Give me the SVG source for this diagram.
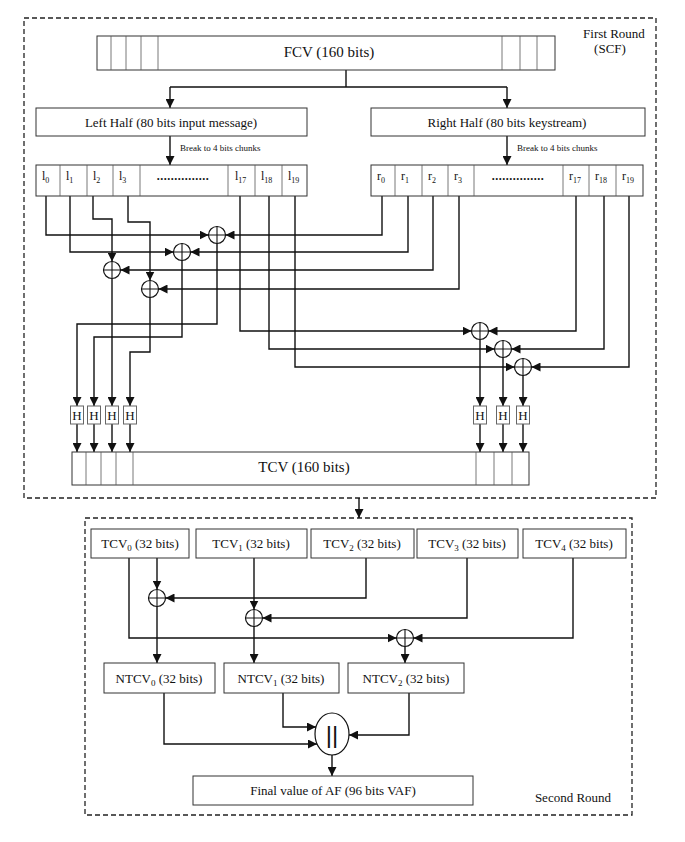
<svg xmlns="http://www.w3.org/2000/svg" width="685" height="842" viewBox="0 0 685 842">
<defs>
<style>
.bg{fill:#fff}
.frame{fill:none;stroke:#222;stroke-width:1.3;stroke-dasharray:5,3}
.box{fill:#fff;stroke:#333;stroke-width:1}
.cell{fill:none;stroke:#555;stroke-width:0.8}
.hbox{fill:#fff;stroke:#666;stroke-width:1}
.ln{fill:none;stroke:#111;stroke-width:1.4}
.arr{fill:none;stroke:#111;stroke-width:1.4;marker-end:url(#ah)}
.xor{fill:#fff;stroke:#111;stroke-width:1.2}
.t{font-family:"Liberation Serif","Times New Roman",serif;fill:#111}
</style>
<marker id="ah" markerUnits="userSpaceOnUse" markerWidth="10" markerHeight="9" refX="9" refY="4.5" orient="auto">
<path d="M0,0 L9,4.5 L0,9 z" fill="#111"/>
</marker>
<g id="xorsym">
<circle class="xor" cx="0" cy="0" r="8.5"/>
<path d="M-8.5,0 H8.5 M0,-8.5 V8.5" stroke="#111" stroke-width="1.1"/>
</g>
</defs>
<rect class="bg" x="0" y="0" width="685" height="842"/>

<!-- frames -->
<g id="first-round">
<rect class="frame" x="24" y="18" width="632" height="480"/>
<text class="t" x="614" y="38" font-size="13" text-anchor="middle">First Round</text>
<text class="t" x="610" y="53" font-size="13" text-anchor="middle">(SCF)</text>
</g>
<g id="second-round">
<rect class="frame" x="85" y="518" width="547" height="297"/>
<text class="t" x="573" y="802" font-size="13" text-anchor="middle">Second Round</text>
</g>

<!-- connectors -->
<g id="connectors">
<path class="ln" d="M346,70 V87 M170,87 H507"/>
<path class="arr" d="M170,87 V108"/>
<path class="arr" d="M507,87 V108"/>
<path class="arr" d="M170,136 V165"/>
<path class="arr" d="M507,136 V165"/>
<path class="arr" d="M46,196 V235 H208.5"/>
<path class="arr" d="M70,196 V252 H173.5"/>
<path class="arr" d="M93,196 V219 H112 V261.5"/>
<path class="arr" d="M128,196 V222 H150 V280.5"/>
<path class="arr" d="M382,196 V235 H225.5"/>
<path class="arr" d="M408,196 V252 H190.5"/>
<path class="arr" d="M433,196 V270 H120.5"/>
<path class="arr" d="M459,196 V289 H158.5"/>
<path class="arr" d="M217,243.5 V324 H77 V406"/>
<path class="arr" d="M182,260.5 V337 H94 V406"/>
<path class="arr" d="M112,278.5 V406"/>
<path class="arr" d="M150,297.5 V352 H130 V406"/>
<path class="arr" d="M240,196 V331 H471.5"/>
<path class="arr" d="M269,196 V349 H494.5"/>
<path class="arr" d="M295,196 V367 H514.5"/>
<path class="arr" d="M576,196 V331 H488.5"/>
<path class="arr" d="M604,196 V349 H511.5"/>
<path class="arr" d="M629,196 V367 H531.5"/>
<path class="arr" d="M480,339.5 V406"/>
<path class="arr" d="M503,357.5 V406"/>
<path class="arr" d="M523,375.5 V406"/>
<path class="arr" d="M77,424 V452"/>
<path class="arr" d="M94,424 V452"/>
<path class="arr" d="M112,424 V452"/>
<path class="arr" d="M130,424 V452"/>
<path class="arr" d="M480,424 V452"/>
<path class="arr" d="M503,424 V452"/>
<path class="arr" d="M523,424 V452"/>
<path class="arr" d="M359,498 V518"/>
<!-- second round -->
<path class="arr" d="M157,558 V589.5"/>
<path class="arr" d="M366,558 V598 H165.5"/>
<path class="arr" d="M254,558 V609.5"/>
<path class="arr" d="M467,558 V618 H262.5"/>
<path class="arr" d="M129,558 V638 H396.5"/>
<path class="arr" d="M573,558 V638 H413.5"/>
<path class="arr" d="M157,606.5 V663"/>
<path class="arr" d="M254,626.5 V663"/>
<path class="arr" d="M405,646.5 V663"/>
<path class="arr" d="M164,693 V744 H317"/>
<path class="arr" d="M283,693 V727 H316"/>
<path class="arr" d="M409,693 V735 H349"/>
<path class="arr" d="M332,755 V776"/>
</g>

<!-- nodes -->
<g id="fcv">
<rect class="box" x="97" y="36" width="458" height="34"/>
<path class="cell" d="M111,36 V70 M126,36 V70 M141,36 V70 M158,36 V70 M502,36 V70 M520,36 V70 M537,36 V70"/>
<text class="t" x="329" y="57" font-size="15" text-anchor="middle">FCV (160 bits)</text>
</g>
<g id="left-half">
<rect class="box" x="36" y="108" width="271" height="28"/>
<text class="t" x="171" y="127" font-size="13" text-anchor="middle">Left Half (80 bits input message)</text>
<text class="t" x="180" y="151" font-size="9">Break to 4 bits chunks</text>
</g>
<g id="right-half">
<rect class="box" x="371" y="108" width="274" height="28"/>
<text class="t" x="507" y="127" font-size="13" text-anchor="middle">Right Half (80 bits keystream)</text>
<text class="t" x="517" y="151" font-size="9">Break to 4 bits chunks</text>
</g>
<g id="left-chunks">
<rect class="box" x="36" y="165" width="271" height="31"/>
<path class="cell" d="M60,165 V196 M87,165 V196 M113,165 V196 M140,165 V196 M228,165 V196 M255,165 V196 M282,165 V196"/>
<g class="t" font-size="12">
<text x="42" y="180">l<tspan font-size="8" dy="3">0</tspan></text>
<text x="66" y="180">l<tspan font-size="8" dy="3">1</tspan></text>
<text x="93" y="180">l<tspan font-size="8" dy="3">2</tspan></text>
<text x="119" y="180">l<tspan font-size="8" dy="3">3</tspan></text>
<text x="235" y="180">l<tspan font-size="8" dy="3">17</tspan></text>
<text x="261" y="180">l<tspan font-size="8" dy="3">18</tspan></text>
<text x="288" y="180">l<tspan font-size="8" dy="3">19</tspan></text>
<text x="183" y="180" text-anchor="middle" font-weight="bold" letter-spacing="0.5">...............</text>
</g>
</g>
<g id="right-chunks">
<rect class="box" x="371" y="165" width="272" height="31"/>
<path class="cell" d="M395,165 V196 M422,165 V196 M448,165 V196 M474,165 V196 M563,165 V196 M589,165 V196 M616,165 V196"/>
<g class="t" font-size="12">
<text x="377" y="180">r<tspan font-size="8" dy="3">0</tspan></text>
<text x="401" y="180">r<tspan font-size="8" dy="3">1</tspan></text>
<text x="428" y="180">r<tspan font-size="8" dy="3">2</tspan></text>
<text x="454" y="180">r<tspan font-size="8" dy="3">3</tspan></text>
<text x="569" y="180">r<tspan font-size="8" dy="3">17</tspan></text>
<text x="595" y="180">r<tspan font-size="8" dy="3">18</tspan></text>
<text x="622" y="180">r<tspan font-size="8" dy="3">19</tspan></text>
<text x="518" y="180" text-anchor="middle" font-weight="bold" letter-spacing="0.5">...............</text>
</g>
</g>
<g id="xor-a"><use href="#xorsym" x="217" y="235"/></g>
<g id="xor-b"><use href="#xorsym" x="182" y="252"/></g>
<g id="xor-c"><use href="#xorsym" x="112" y="270"/></g>
<g id="xor-d"><use href="#xorsym" x="150" y="289"/></g>
<g id="xor-e"><use href="#xorsym" x="480" y="331"/></g>
<g id="xor-f"><use href="#xorsym" x="503" y="349"/></g>
<g id="xor-g"><use href="#xorsym" x="523" y="367"/></g>
<g id="h-boxes" class="t" font-size="13" text-anchor="middle">
<g id="h1"><rect class="hbox" x="70.5" y="406" width="13" height="18"/><text x="77" y="420">H</text></g>
<g id="h2"><rect class="hbox" x="87.5" y="406" width="13" height="18"/><text x="94" y="420">H</text></g>
<g id="h3"><rect class="hbox" x="105.5" y="406" width="13" height="18"/><text x="112" y="420">H</text></g>
<g id="h4"><rect class="hbox" x="123.5" y="406" width="13" height="18"/><text x="130" y="420">H</text></g>
<g id="h5"><rect class="hbox" x="473.5" y="406" width="13" height="18"/><text x="480" y="420">H</text></g>
<g id="h6"><rect class="hbox" x="496.5" y="406" width="13" height="18"/><text x="503" y="420">H</text></g>
<g id="h7"><rect class="hbox" x="516.5" y="406" width="13" height="18"/><text x="523" y="420">H</text></g>
</g>
<g id="tcv">
<rect class="box" x="72" y="452" width="457" height="33"/>
<path class="cell" d="M86,452 V485 M101,452 V485 M116,452 V485 M133,452 V485 M476,452 V485 M494,452 V485 M512,452 V485"/>
<text class="t" x="304" y="472" font-size="15" text-anchor="middle">TCV (160 bits)</text>
</g>

<g id="tcv-parts" class="t" font-size="13" text-anchor="middle">
<g id="tcv0"><rect class="box" x="91" y="529" width="98" height="29"/><text x="140" y="548">TCV<tspan font-size="9" dy="3">0</tspan><tspan dy="-3"> (32 bits)</tspan></text></g>
<g id="tcv1"><rect class="box" x="196" y="529" width="111" height="29"/><text x="251" y="548">TCV<tspan font-size="9" dy="3">1</tspan><tspan dy="-3"> (32 bits)</tspan></text></g>
<g id="tcv2"><rect class="box" x="311" y="529" width="103" height="29"/><text x="362" y="548">TCV<tspan font-size="9" dy="3">2</tspan><tspan dy="-3"> (32 bits)</tspan></text></g>
<g id="tcv3"><rect class="box" x="417" y="529" width="101" height="29"/><text x="467" y="548">TCV<tspan font-size="9" dy="3">3</tspan><tspan dy="-3"> (32 bits)</tspan></text></g>
<g id="tcv4"><rect class="box" x="523" y="529" width="103" height="29"/><text x="574" y="548">TCV<tspan font-size="9" dy="3">4</tspan><tspan dy="-3"> (32 bits)</tspan></text></g>
</g>
<g id="xor-1"><use href="#xorsym" x="157" y="598"/></g>
<g id="xor-2"><use href="#xorsym" x="254" y="618"/></g>
<g id="xor-3"><use href="#xorsym" x="405" y="638"/></g>
<g id="ntcv" class="t" font-size="13" text-anchor="middle">
<g id="ntcv0"><rect class="box" x="104" y="663" width="111" height="30"/><text x="159" y="683">NTCV<tspan font-size="9" dy="3">0</tspan><tspan dy="-3"> (32 bits)</tspan></text></g>
<g id="ntcv1"><rect class="box" x="224" y="663" width="115" height="30"/><text x="281" y="683">NTCV<tspan font-size="9" dy="3">1</tspan><tspan dy="-3"> (32 bits)</tspan></text></g>
<g id="ntcv2"><rect class="box" x="348" y="663" width="116" height="30"/><text x="406" y="683">NTCV<tspan font-size="9" dy="3">2</tspan><tspan dy="-3"> (32 bits)</tspan></text></g>
</g>
<g id="concat">
<ellipse cx="332" cy="734" rx="17" ry="21" fill="#fff" stroke="#111" stroke-width="1.2"/>
<text x="332" y="743" font-family="'Liberation Sans',Arial,sans-serif" font-size="24" text-anchor="middle" fill="#111">||</text>
</g>
<g id="final">
<rect class="box" x="193" y="776" width="280" height="29"/>
<text class="t" x="333" y="795" font-size="13" text-anchor="middle">Final value of AF (96 bits VAF)</text>
</g>
</svg>
